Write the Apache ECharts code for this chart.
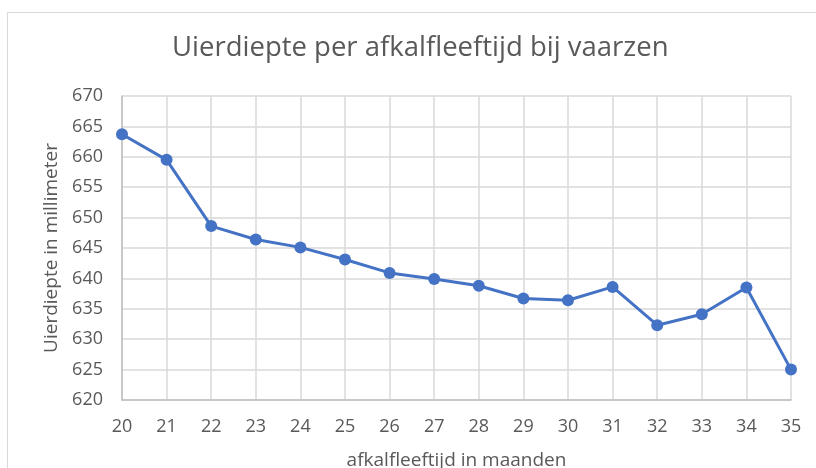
<!DOCTYPE html>
<html><head><meta charset="utf-8">
<script src="https://cdn.jsdelivr.net/npm/echarts@6/dist/echarts.min.js"></script>
<style>html,body{margin:0;padding:0;background:#fff}#c{width:816px;height:468px}</style>
</head><body><div id="c"></div>
<script>
const months = [20,21,22,23,24,25,26,27,28,29,30,31,32,33,34,35];
const depth = [663.7,659.5,648.6,646.4,645.1,643.1,640.9,639.9,638.8,636.7,636.4,638.6,632.3,634.1,638.5,625.0];
const yTicks = {min:620, max:670, interval:5};
const xTicks = {min:20, max:35, interval:1};

const chart = echarts.init(document.getElementById('c'));
const font = '"Open Sans", "Noto Sans", sans-serif';
chart.setOption({
  animation:false,
  graphic:[{type:'rect', shape:{x:7.5,y:12.5,width:820,height:470}, style:{fill:'none',stroke:'#d9d9d9',lineWidth:1}}],
  title:{text:'Uierdiepte per afkalfleeftijd bij vaarzen', left:167, top:29,
    textStyle:{fontFamily:font, fontSize:27.5, fontWeight:'normal', color:'#595959'}},
  grid:{left:122, right:25, top:96, bottom:68, outerBoundsMode:'none', containLabel:false},
  xAxis:{type:'value', min:xTicks.min, max:xTicks.max, interval:xTicks.interval,
    name:'afkalfleeftijd in maanden', nameLocation:'middle', nameGap:51,
    nameTextStyle:{fontFamily:font, fontSize:19, color:'#595959'},
    axisLine:{show:true, lineStyle:{color:'#bfbfbf', width:1.5}},
    axisTick:{show:false},
    axisLabel:{fontFamily:font, fontSize:18, color:'#595959', margin:18},
    splitLine:{show:true, lineStyle:{color:'#d9d9d9', width:1.5}}},
  yAxis:{type:'value', min:yTicks.min, max:yTicks.max, interval:yTicks.interval,
    name:'Uierdiepte in millimeter', nameLocation:'middle', nameGap:54,
    nameTextStyle:{fontFamily:font, fontSize:19, color:'#595959'},
    axisLine:{show:true, lineStyle:{color:'#bfbfbf', width:1.5}},
    axisTick:{show:false},
    axisLabel:{fontFamily:font, fontSize:18, color:'#595959', margin:19},
    splitLine:{show:true, lineStyle:{color:'#d9d9d9', width:1.5}}},
  series:[{type:'line', data:months.map((m,i)=>[m,depth[i]]),
    symbol:'circle', symbolSize:12,
    lineStyle:{color:'#4472C4', width:3},
    itemStyle:{color:'#4472C4'}}]
});
</script></body></html>
